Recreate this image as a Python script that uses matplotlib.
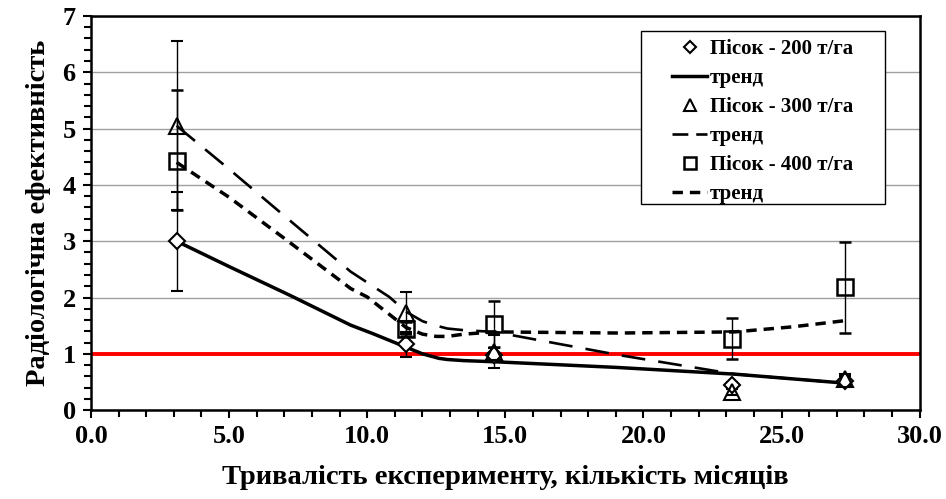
import matplotlib.pyplot as plt
from matplotlib.lines import Line2D
from matplotlib.patches import Rectangle
from matplotlib.ticker import MultipleLocator, FormatStrFormatter

plt.rcParams['font.family'] = ['Liberation Serif', 'DejaVu Serif']
plt.rcParams['font.weight'] = 'bold'

# measured points (months, efficiency) and error bars
x_pts = [3.1, 11.4, 14.6, 23.2, 27.3]
y_200 = [3.00, 1.17, 0.98, 0.44, 0.52]
e_200 = [0.88, 0.22, 0.12, 0.06, 0.08]
y_300 = [5.05, 1.72, 1.04, 0.33, 0.55]
e_300 = [1.50, 0.37, 0.29, 0.06, 0.10]
y_400 = [4.42, 1.44, 1.53, 1.27, 2.18]
e_400_lo = [0.87, 0.12, 0.41, 0.36, 0.81]
e_400_hi = [1.26, 0.12, 0.41, 0.36, 0.81]

# trend curves
tx_200 = [3.1, 5.0, 7.2, 9.4, 10.2, 11.4, 12.0, 12.6, 12.9, 13.5, 14.6, 19.0, 23.3, 27.3]
ty_200 = [3.00, 2.55, 2.04, 1.51, 1.36, 1.12, 1.00, 0.92, 0.90, 0.88, 0.86, 0.76, 0.64, 0.48]
tx_300 = [3.1, 5.0, 7.0, 9.4, 10.8, 11.4, 12.0, 12.5, 12.9, 13.5, 14.6, 19.1, 23.3, 27.3]
ty_300 = [5.05, 4.28, 3.45, 2.46, 2.01, 1.75, 1.58, 1.50, 1.45, 1.42, 1.39, 0.98, 0.64, 0.48]
tx_400 = [3.1, 5.0, 7.0, 9.4, 10.0, 11.4, 12.0, 12.5, 12.9, 13.5, 14.6, 19.1, 23.3, 25.4, 27.3]
ty_400 = [4.40, 3.78, 3.05, 2.16, 2.01, 1.47, 1.35, 1.31, 1.31, 1.35, 1.39, 1.37, 1.39, 1.48, 1.59]

lbl_200 = 'Пісок - 200 т/га'
lbl_300 = 'Пісок - 300 т/га'
lbl_400 = 'Пісок - 400 т/га'

fig = plt.figure(figsize=(9.46, 4.99), dpi=100)
ax = fig.add_axes([0.0962, 0.178, 0.876, 0.790])

ax.grid(axis='y', color='#a0a0a0', linewidth=1.0, zorder=0)
ax.axhline(1.0, color='red', linewidth=2.8, zorder=2)

ebkw = dict(ecolor='black', elinewidth=1.0, capsize=4, capthick=1.0, linestyle='none')
h200 = ax.errorbar(x_pts, y_200, yerr=e_200, marker='D', markersize=8, mfc='white',
                   mec='black', mew=1.5, zorder=4, **ebkw)
t200, = ax.plot(tx_200, ty_200, color='black', linewidth=2.5, zorder=3)
h300 = ax.errorbar(x_pts, y_300, yerr=e_300, marker='^', markersize=11, mfc='none',
                   mec='black', mew=1.5, zorder=4, **ebkw)
t300, = ax.plot(tx_300, ty_300, color='black', linewidth=1.9, dashes=(9, 5), zorder=3)
h400 = ax.errorbar(x_pts, y_400, yerr=[e_400_lo, e_400_hi], marker='s', markersize=12,
                   mfc='none', mec='black', mew=1.8, zorder=4, **ebkw)
t400, = ax.plot(tx_400, ty_400, color='black', linewidth=2.5, dashes=(3, 2), zorder=3)

ax.set_xlim(0, 30)
ax.set_ylim(0, 7)
ax.xaxis.set_major_locator(MultipleLocator(5))
ax.xaxis.set_minor_locator(MultipleLocator(1))
ax.xaxis.set_major_formatter(FormatStrFormatter('%.1f'))
ax.yaxis.set_major_locator(MultipleLocator(1))
ax.yaxis.set_minor_locator(MultipleLocator(0.2))
ax.tick_params(axis='both', which='major', direction='out', length=6, width=1.5,
               labelsize=19, pad=5)
ax.tick_params(axis='both', which='minor', direction='out', length=5, width=1.5)
for lab in ax.get_xticklabels() + ax.get_yticklabels():
    lab.set_fontweight('bold')
for sp in ax.spines.values():
    sp.set_linewidth(1.8)

ax.set_xlabel('Тривалість експерименту, кількість місяців', fontsize=20.5,
              fontweight='bold', labelpad=12)
ax.set_ylabel('Радіологічна ефективність', fontsize=20.5, fontweight='bold', labelpad=8)

# legend box drawn separately so its padding can differ horizontally / vertically
box = Rectangle((0.6776, 0.5912), 0.2579, 0.3467, transform=fig.transFigure,
                facecolor='white', edgecolor='black', linewidth=1.0, zorder=4.5)
ax.add_artist(box)

# the legend shows the long dash shorter than on the curve
t300_leg = Line2D([], [], color='black', linewidth=1.9, dashes=(6, 3))

handles = [h200[0], t200, h300[0], t300_leg, h400[0], t400]
labels = [lbl_200, 'тренд', lbl_300, 'тренд', lbl_400, 'тренд']
leg = ax.legend(handles, labels, loc='upper left', bbox_to_anchor=(0.7104, 0.921),
                bbox_transform=fig.transFigure,
                prop={'size': 15, 'weight': 'bold'}, frameon=False,
                handlelength=1.7, handletextpad=0.1,
                labelspacing=0.43, borderpad=0.0, borderaxespad=0.0, markerscale=0.75)
leg.set_zorder(5)

plt.savefig('out.png', dpi=100)
